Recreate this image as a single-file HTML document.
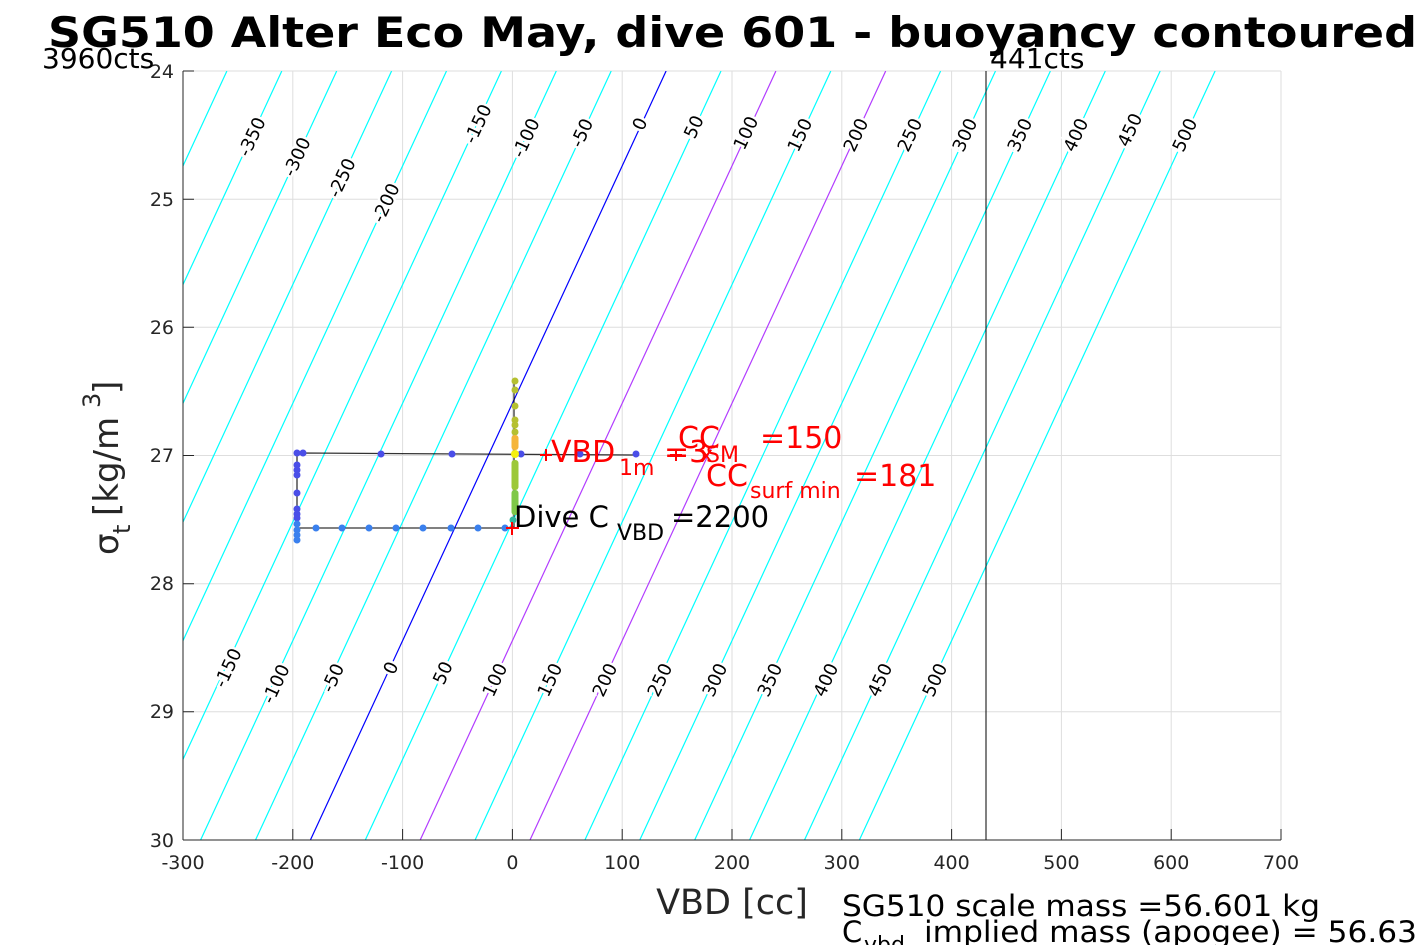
<!DOCTYPE html>
<html><head><meta charset="utf-8"><style>
html,body{margin:0;padding:0;background:#fff;}
svg{display:block;font-family:"DejaVu Sans","Liberation Sans",sans-serif;}
.tk{font-size:19px;fill:#262626;}
.cl{font-size:18px;fill:#000;stroke:#fff;stroke-width:5px;paint-order:stroke;}
</style></head><body>
<svg width="1417" height="945" viewBox="0 0 1417 945" xmlns="http://www.w3.org/2000/svg">
<defs><clipPath id="c"><rect x="183" y="71" width="1098" height="769"/></clipPath></defs>
<rect x="183" y="71" width="1098" height="769" fill="#fff"/>
<g stroke="#dedede" stroke-width="1">
<line x1="292.8" y1="71" x2="292.8" y2="840"/><line x1="402.6" y1="71" x2="402.6" y2="840"/><line x1="512.4" y1="71" x2="512.4" y2="840"/><line x1="622.2" y1="71" x2="622.2" y2="840"/><line x1="732" y1="71" x2="732" y2="840"/><line x1="841.8" y1="71" x2="841.8" y2="840"/><line x1="951.6" y1="71" x2="951.6" y2="840"/><line x1="1061.4" y1="71" x2="1061.4" y2="840"/><line x1="1171.2" y1="71" x2="1171.2" y2="840"/>
<line x1="183" y1="199.2" x2="1281" y2="199.2"/><line x1="183" y1="327.3" x2="1281" y2="327.3"/><line x1="183" y1="455.5" x2="1281" y2="455.5"/><line x1="183" y1="583.7" x2="1281" y2="583.7"/><line x1="183" y1="711.8" x2="1281" y2="711.8"/>
<line x1="183" y1="71" x2="1281" y2="71"/><line x1="1281" y1="71" x2="1281" y2="840"/>
</g>
<g clip-path="url(#c)" stroke-width="1.2" fill="none">
<g stroke="#00ffff">
<line x1="226.9" y1="71" x2="-128.8" y2="840"/><line x1="281.8" y1="71" x2="-73.9" y2="840"/><line x1="336.7" y1="71" x2="-19" y2="840"/><line x1="391.6" y1="71" x2="35.9" y2="840"/><line x1="446.5" y1="71" x2="90.8" y2="840"/><line x1="501.4" y1="71" x2="145.7" y2="840"/><line x1="556.3" y1="71" x2="200.6" y2="840"/><line x1="611.2" y1="71" x2="255.5" y2="840"/><line x1="721" y1="71" x2="365.3" y2="840"/><line x1="830.8" y1="71" x2="475.1" y2="840"/><line x1="940.6" y1="71" x2="584.9" y2="840"/><line x1="995.5" y1="71" x2="639.8" y2="840"/><line x1="1050.4" y1="71" x2="694.7" y2="840"/><line x1="1105.3" y1="71" x2="749.6" y2="840"/><line x1="1160.2" y1="71" x2="804.5" y2="840"/><line x1="1215.1" y1="71" x2="859.4" y2="840"/>
</g>
<line x1="666.1" y1="71" x2="310.4" y2="840" stroke="#0000ff"/>
<line x1="775.9" y1="71" x2="420.2" y2="840" stroke="#b23cff"/>
<line x1="885.7" y1="71" x2="530" y2="840" stroke="#b23cff"/>
</g>
<line x1="986" y1="71" x2="986" y2="840" stroke="#000" stroke-width="1"/>
<g class="cl">
<text transform="translate(252,137) rotate(-65)" text-anchor="middle" dy="6">-350</text>
<text transform="translate(297,157) rotate(-65)" text-anchor="middle" dy="6">-300</text>
<text transform="translate(342,178) rotate(-65)" text-anchor="middle" dy="6">-250</text>
<text transform="translate(386,203) rotate(-65)" text-anchor="middle" dy="6">-200</text>
<text transform="translate(478,124) rotate(-65)" text-anchor="middle" dy="6">-150</text>
<text transform="translate(526,138) rotate(-65)" text-anchor="middle" dy="6">-100</text>
<text transform="translate(582,133) rotate(-65)" text-anchor="middle" dy="6">-50</text>
<text transform="translate(640,124) rotate(-65)" text-anchor="middle" dy="6">0</text>
<text transform="translate(694,127) rotate(-65)" text-anchor="middle" dy="6">50</text>
<text transform="translate(746,133) rotate(-65)" text-anchor="middle" dy="6">100</text>
<text transform="translate(800,135) rotate(-65)" text-anchor="middle" dy="6">150</text>
<text transform="translate(856,135) rotate(-65)" text-anchor="middle" dy="6">200</text>
<text transform="translate(910,135) rotate(-65)" text-anchor="middle" dy="6">250</text>
<text transform="translate(965,135) rotate(-65)" text-anchor="middle" dy="6">300</text>
<text transform="translate(1020,135) rotate(-65)" text-anchor="middle" dy="6">350</text>
<text transform="translate(1076,135) rotate(-65)" text-anchor="middle" dy="6">400</text>
<text transform="translate(1130,130) rotate(-65)" text-anchor="middle" dy="6">450</text>
<text transform="translate(1185,135) rotate(-65)" text-anchor="middle" dy="6">500</text>
<text transform="translate(228,668) rotate(-65)" text-anchor="middle" dy="6">-150</text>
<text transform="translate(276,684) rotate(-65)" text-anchor="middle" dy="6">-100</text>
<text transform="translate(333,678) rotate(-65)" text-anchor="middle" dy="6">-50</text>
<text transform="translate(391,668) rotate(-65)" text-anchor="middle" dy="6">0</text>
<text transform="translate(443,673) rotate(-65)" text-anchor="middle" dy="6">50</text>
<text transform="translate(495,680) rotate(-65)" text-anchor="middle" dy="6">100</text>
<text transform="translate(550,680) rotate(-65)" text-anchor="middle" dy="6">150</text>
<text transform="translate(605,680) rotate(-65)" text-anchor="middle" dy="6">200</text>
<text transform="translate(660,680) rotate(-65)" text-anchor="middle" dy="6">250</text>
<text transform="translate(715,680) rotate(-65)" text-anchor="middle" dy="6">300</text>
<text transform="translate(770,680) rotate(-65)" text-anchor="middle" dy="6">350</text>
<text transform="translate(826,680) rotate(-65)" text-anchor="middle" dy="6">400</text>
<text transform="translate(880,680) rotate(-65)" text-anchor="middle" dy="6">450</text>
<text transform="translate(935,680) rotate(-65)" text-anchor="middle" dy="6">500</text>
</g>
<polyline points="636,455 303,453 297,454 297,528 505,528 514,527 514,380" fill="none" stroke="#000" stroke-width="1.3" stroke-opacity="0.8"/>
<g fill="#4a4ee8">
<circle cx="297" cy="453" r="3.5"/><circle cx="303" cy="453" r="3.5"/><circle cx="381" cy="454" r="3.5"/><circle cx="452" cy="454" r="3.5"/><circle cx="521" cy="454" r="3.5"/><circle cx="580" cy="454" r="3.5"/><circle cx="636" cy="454" r="3.5"/>
<circle cx="297" cy="465" r="3.5"/><circle cx="297" cy="470" r="3.5"/><circle cx="297" cy="475" r="3.5"/><circle cx="297" cy="493" r="3.5"/><circle cx="297" cy="509" r="3.5"/><circle cx="297" cy="514" r="3.5"/><circle cx="297" cy="518" r="3.5"/>
</g>
<g fill="#3a80ee">
<circle cx="297" cy="524" r="3.5"/><circle cx="297" cy="530" r="3.5"/><circle cx="297" cy="535" r="3.5"/><circle cx="297" cy="540" r="3.5"/>
<circle cx="316" cy="528" r="3.5"/><circle cx="342" cy="528" r="3.5"/><circle cx="369" cy="528" r="3.5"/><circle cx="396" cy="528" r="3.5"/><circle cx="423" cy="528" r="3.5"/><circle cx="451" cy="528" r="3.5"/><circle cx="478" cy="528" r="3.5"/><circle cx="505" cy="528" r="3.5"/>
</g>
<g>
<circle cx="515" cy="381" r="3.5" fill="#b5c030"/><circle cx="515" cy="390" r="3.5" fill="#b5c030"/><circle cx="515" cy="406" r="3.5" fill="#b5c030"/><circle cx="515" cy="420" r="3.5" fill="#b5c030"/><circle cx="515" cy="425" r="3.5" fill="#b5c030"/><circle cx="515" cy="432" r="3.5" fill="#b5c030"/>
<rect x="511.5" y="435" width="7" height="15" rx="3" fill="#f5b53a"/>
<circle cx="515" cy="454" r="4" fill="#f5f010"/>
<rect x="511.5" y="460" width="7" height="30" rx="3" fill="#9cc838"/>
<rect x="511.5" y="490" width="7" height="25" rx="3" fill="#7ec848"/>
<circle cx="513" cy="520" r="3.5" fill="#30b8a0"/>
</g>
<g stroke="#ff0000" stroke-width="2">
<path d="M540 455h12M546 449v12"/><path d="M670 455h12M676 449v12"/><path d="M506 528h13M512 522v13"/>
</g>
<g fill="#ff0000">
<text x="551" y="462" font-size="30">VBD</text><text x="619" y="475" font-size="22">1m</text><text x="664" y="462" font-size="30">=3</text><text x="700" y="462" font-size="22">x</text>
<text x="678" y="448" font-size="30">CC</text><text x="706" y="462" font-size="22">SM</text><text x="760" y="448" font-size="30">=150</text>
<text x="706" y="486" font-size="30">CC</text><text x="750" y="498" font-size="22">surf min</text><text x="854" y="486" font-size="30">=181</text>
</g>
<text x="514" y="527" font-size="29">Dive C</text><text x="617" y="540" font-size="22">VBD</text><text x="671" y="527" font-size="29">=2200</text>
<g stroke="#262626" stroke-width="1">
<line x1="183" y1="71" x2="183" y2="840"/><line x1="183" y1="840" x2="1281" y2="840"/>
<path d="M292.8 840v-11M402.6 840v-11M512.4 840v-11M622.2 840v-11M732 840v-11M841.8 840v-11M951.6 840v-11M1061.4 840v-11M1171.2 840v-11M1281 840v-11"/>
<path d="M183 71h11M183 199.2h11M183 327.3h11M183 455.5h11M183 583.7h11M183 711.8h11"/>
</g>
<g class="tk" text-anchor="middle">
<text x="183" y="869">-300</text><text x="292.8" y="869">-200</text><text x="402.6" y="869">-100</text><text x="512.4" y="869">0</text><text x="622.2" y="869">100</text><text x="732" y="869">200</text><text x="841.8" y="869">300</text><text x="951.6" y="869">400</text><text x="1061.4" y="869">500</text><text x="1171.2" y="869">600</text><text x="1281" y="869">700</text>
</g>
<g class="tk" text-anchor="end">
<text x="174" y="78">24</text><text x="174" y="206">25</text><text x="174" y="334">26</text><text x="174" y="462">27</text><text x="174" y="590">28</text><text x="174" y="718">29</text><text x="174" y="847">30</text>
</g>
<text x="732" y="914" font-size="35" fill="#262626" text-anchor="middle">VBD [cc]</text>
<g transform="translate(118,460) rotate(-90)" fill="#262626">
<text x="-95" y="0" font-size="34">σ</text><text x="-74" y="12" font-size="24">t</text><text x="-56" y="0" font-size="34">[kg/m</text><text x="52" y="-18" font-size="24">3</text><text x="66" y="0" font-size="34">]</text>
</g>
<text x="48" y="47" font-size="42" font-weight="bold" textLength="1369" lengthAdjust="spacingAndGlyphs">SG510 Alter Eco May, dive 601 - buoyancy contoured</text>
<text x="42" y="68" font-size="28">3960cts</text>
<text x="990" y="68" font-size="28">441cts</text>
<text x="842" y="916" font-size="29" textLength="478" lengthAdjust="spacingAndGlyphs">SG510 scale mass =56.601 kg</text>
<text x="842" y="942" font-size="29">C</text><text x="864" y="952" font-size="22">vbd</text><text x="924" y="942" font-size="29" textLength="493" lengthAdjust="spacingAndGlyphs">implied mass (apogee) = 56.63</text>
</svg>
</body></html>
